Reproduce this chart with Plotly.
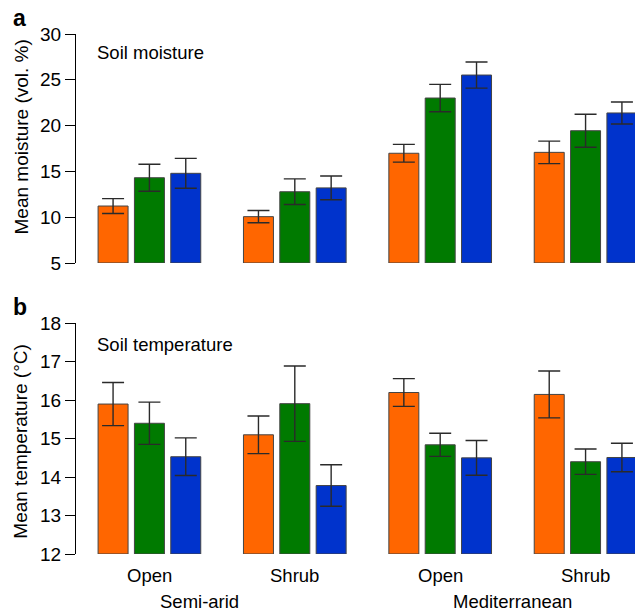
import plotly.graph_objects as go

# ---- data ----
climates = ["Semi-arid", "Mediterranean"]
habitats = ["Open", "Shrub"]
series_colors = ["#FF6600", "#007A00", "#0033CC"]

# group order: Semi-arid Open, Semi-arid Shrub, Mediterranean Open, Mediterranean Shrub
moisture_orange = [11.22, 10.06, 16.98, 17.08]
moisture_green = [14.31, 12.78, 23.01, 19.44]
moisture_blue = [14.79, 13.20, 25.52, 21.38]
moisture_err_orange = [0.81, 0.67, 0.97, 1.23]
moisture_err_green = [1.47, 1.40, 1.49, 1.80]
moisture_err_blue = [1.63, 1.29, 1.43, 1.20]

temp_orange = [15.90, 15.10, 16.20, 16.15]
temp_green = [15.40, 15.91, 14.84, 14.40]
temp_blue = [14.53, 13.78, 14.50, 14.51]
temp_err_orange = [0.56, 0.49, 0.36, 0.61]
temp_err_green = [0.55, 0.98, 0.30, 0.33]
temp_err_blue = [0.49, 0.54, 0.45, 0.37]

moisture = [moisture_orange, moisture_green, moisture_blue]
moisture_err = [moisture_err_orange, moisture_err_green, moisture_err_blue]
temp = [temp_orange, temp_green, temp_blue]
temp_err = [temp_err_orange, temp_err_green, temp_err_blue]

W, H = 635, 612
FONT = "Liberation Sans, Arial, Helvetica, sans-serif"

fig = go.Figure()


def xpos(s):
    return [g * 4 + s for g in range(4)]


for panel, (vals, errs, base) in enumerate([(moisture, moisture_err, 5), (temp, temp_err, 12)]):
    xa = "x" if panel == 0 else "x2"
    ya = "y" if panel == 0 else "y2"
    for s in range(3):
        fig.add_trace(go.Bar(
            x=xpos(s),
            y=[v - base for v in vals[s]],
            base=base,
            width=0.825,
            marker=dict(color=series_colors[s], line=dict(color="#444444", width=1)),
            error_y=dict(type="data", array=errs[s], color="#2a2a2a", thickness=1.4, width=11),
            xaxis=xa, yaxis=ya,
            showlegend=False,
            hoverinfo="y",
        ))

xr = [-1.02, 14.36]
xd = [76 / W, 1.0]


def py(p):
    return 1 - p / H


common_y = dict(
    showgrid=False, zeroline=False, showline=True, linecolor="black", linewidth=1.3,
    ticks="outside", ticklen=10, tickwidth=1.3, tickcolor="black",
    tickfont=dict(family=FONT, size=19, color="black"), automargin=False,
)
common_x = dict(showgrid=False, zeroline=False, showline=False, showticklabels=False,
                ticks="", range=xr, domain=xd, automargin=False)

fig.update_layout(
    width=W, height=H, autosize=False,
    margin=dict(l=0, r=0, t=0, b=0, pad=0),
    paper_bgcolor="white", plot_bgcolor="white",
    barmode="overlay",
    xaxis=dict(**common_x, anchor="y"),
    xaxis2=dict(**common_x, anchor="y2"),
    yaxis=dict(**common_y, range=[5, 30], tickvals=[5, 10, 15, 20, 25, 30],
               domain=[py(263), py(34)], anchor="x"),
    yaxis2=dict(**common_y, range=[12, 18], tickvals=[12, 13, 14, 15, 16, 17, 18],
                domain=[py(554), py(323.3)], anchor="x2"),
    font=dict(family=FONT, color="black"),
)

ann = []
ann.append(dict(text="<b>a</b>", x=11 / W, y=py(18), xref="paper", yref="paper",
                xanchor="left", yanchor="middle", showarrow=False,
                font=dict(size=23, family=FONT)))
ann.append(dict(text="<b>b</b>", x=11 / W, y=py(307), xref="paper", yref="paper",
                xanchor="left", yanchor="middle", showarrow=False,
                font=dict(size=23, family=FONT)))
ann.append(dict(text="Soil moisture", x=95 / W, y=py(52), xref="paper", yref="paper",
                xanchor="left", yanchor="middle", showarrow=False,
                font=dict(size=18.5, family=FONT)))
ann.append(dict(text="Soil temperature", x=95 / W, y=py(344), xref="paper", yref="paper",
                xanchor="left", yanchor="middle", showarrow=False,
                font=dict(size=18.5, family=FONT)))
ann.append(dict(text="Mean moisture (vol. %)", x=21 / W, y=py(137.5), xref="paper", yref="paper",
                xanchor="center", yanchor="middle", textangle=-90, showarrow=False,
                font=dict(size=19, family=FONT)))
ann.append(dict(text="Mean temperature (°C)", x=21 / W, y=py(441.7), xref="paper", yref="paper",
                xanchor="center", yanchor="middle", textangle=-90, showarrow=False,
                font=dict(size=19, family=FONT)))
for g in range(4):
    ann.append(dict(text=habitats[g % 2], x=g * 4 + 1, y=py(575), xref="x2", yref="paper",
                    xanchor="center", yanchor="middle", showarrow=False,
                    font=dict(size=18.5, family=FONT)))
climate_x = [2.37, 11.0]
for c in range(2):
    ann.append(dict(text=climates[c], x=climate_x[c], y=py(601), xref="x2", yref="paper",
                    xanchor="center", yanchor="middle", showarrow=False,
                    font=dict(size=18.5, family=FONT)))
fig.update_layout(annotations=ann)

fig.write_html("out.html")
